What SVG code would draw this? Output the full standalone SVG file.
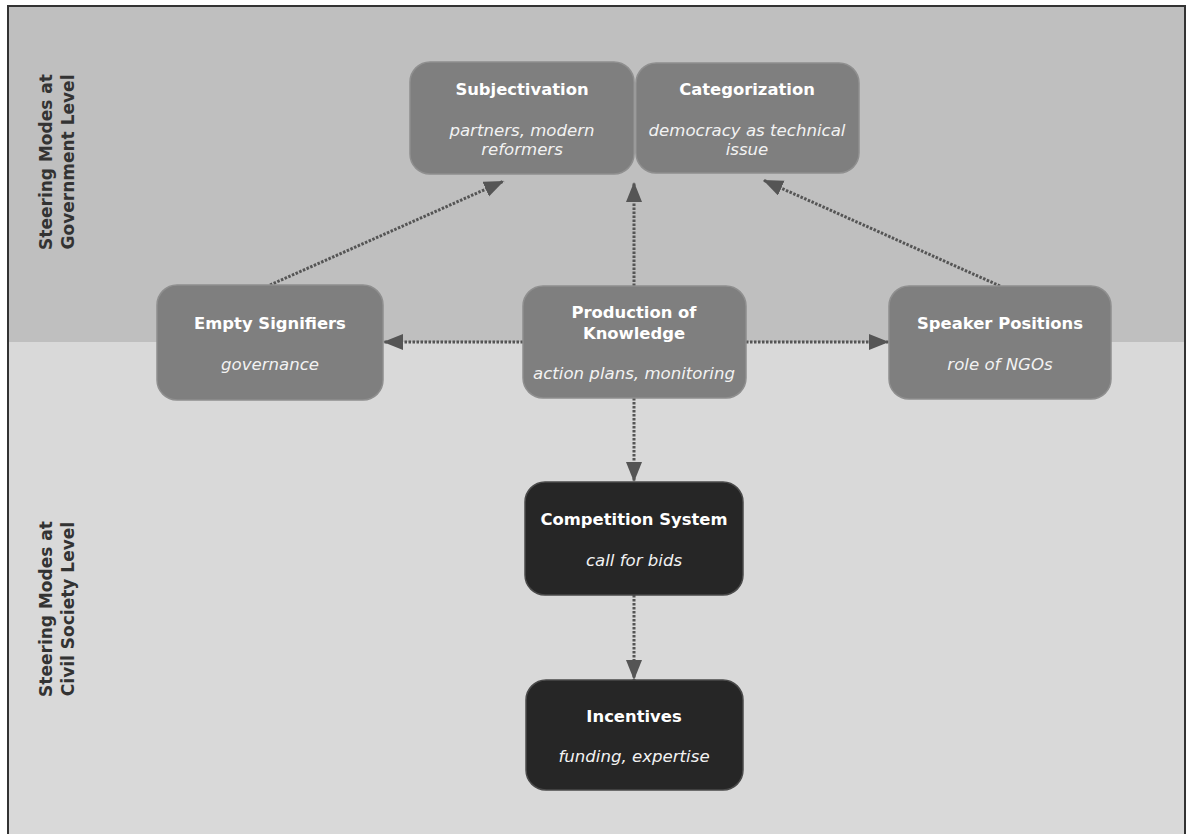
<svg xmlns="http://www.w3.org/2000/svg" width="1186" height="834" viewBox="0 0 1186 834">
<defs>
<style>
.node{fill:#7f7f7f;stroke:#8f8f8f;stroke-width:1.5}
.dark{fill:#262626;stroke:#4a4a4a;stroke-width:1.5}
.t{font-family:"DejaVu Sans",Verdana,sans-serif;font-size:16.4px;font-weight:bold;fill:#ffffff;text-anchor:middle}
.s{font-family:"DejaVu Sans",Verdana,sans-serif;font-size:16.6px;font-style:italic;fill:#f2f2f2;text-anchor:middle}
.lane{font-family:"DejaVu Sans",Verdana,sans-serif;font-size:17px;font-weight:bold;fill:#333333;text-anchor:middle}
.c{fill:none;stroke:#555555;stroke-width:3;stroke-dasharray:2.5 1.5;marker-end:url(#ah)}
</style>
<marker id="ah" markerUnits="userSpaceOnUse" markerWidth="21" markerHeight="17" refX="20" refY="8" orient="auto">
<path d="M0,0 L20,8 L0,16 Z" fill="#555555"/>
</marker>
</defs>
<rect x="0" y="0" width="1186" height="834" fill="#ffffff"/>
<rect x="8" y="6" width="1177" height="336" fill="#bfbfbf"/>
<rect x="8" y="342" width="1177" height="500" fill="#d9d9d9"/>
<rect x="8" y="6" width="1177" height="840" fill="none" stroke="#333333" stroke-width="2"/>
<g id="lane-gov">
<text class="lane" transform="translate(52,162) rotate(-90)"><tspan x="0" y="0">Steering Modes at</tspan><tspan x="0" y="22">Government Level</tspan></text>
</g>
<g id="lane-civil">
<text class="lane" transform="translate(52,609) rotate(-90)"><tspan x="0" y="0">Steering Modes at</tspan><tspan x="0" y="22">Civil Society Level</tspan></text>
</g>
<g id="connectors">
<line class="c" x1="523" y1="342" x2="383" y2="342"/>
<line class="c" x1="746" y1="342" x2="889" y2="342"/>
<line class="c" x1="634" y1="286" x2="634" y2="182"/>
<line class="c" x1="270" y1="285" x2="504" y2="181"/>
<line class="c" x1="1000" y1="286" x2="763" y2="180"/>
<line class="c" x1="634" y1="398" x2="634" y2="482"/>
<line class="c" x1="634" y1="595" x2="634" y2="680"/>
</g>
<g id="subjectivation">
<rect class="node" x="410" y="62" width="224" height="112" rx="20"/>
<text class="t" x="522" y="95">Subjectivation</text>
<text class="s" x="522" y="136">partners, modern</text>
<text class="s" x="522" y="155">reformers</text>
</g>
<g id="categorization">
<rect class="node" x="636" y="63" width="223" height="110" rx="20"/>
<text class="t" x="747" y="95">Categorization</text>
<text class="s" x="747" y="136">democracy as technical</text>
<text class="s" x="747" y="155">issue</text>
</g>
<g id="empty-signifiers">
<rect class="node" x="157" y="285" width="226" height="115" rx="20"/>
<text class="t" x="270" y="329">Empty Signifiers</text>
<text class="s" x="270" y="370">governance</text>
</g>
<g id="production">
<rect class="node" x="523" y="286" width="223" height="112" rx="20"/>
<text class="t" x="634" y="318">Production of</text>
<text class="t" x="634" y="339">Knowledge</text>
<text class="s" x="634" y="379">action plans, monitoring</text>
</g>
<g id="speaker-positions">
<rect class="node" x="889" y="286" width="222" height="113" rx="20"/>
<text class="t" x="1000" y="329">Speaker Positions</text>
<text class="s" x="1000" y="370">role of NGOs</text>
</g>
<g id="competition">
<rect class="dark" x="525" y="482" width="218" height="113" rx="20"/>
<text class="t" x="634" y="525">Competition System</text>
<text class="s" x="634" y="566">call for bids</text>
</g>
<g id="incentives">
<rect class="dark" x="526" y="680" width="217" height="110" rx="20"/>
<text class="t" x="634" y="722">Incentives</text>
<text class="s" x="634" y="762">funding, expertise</text>
</g>
</svg>
